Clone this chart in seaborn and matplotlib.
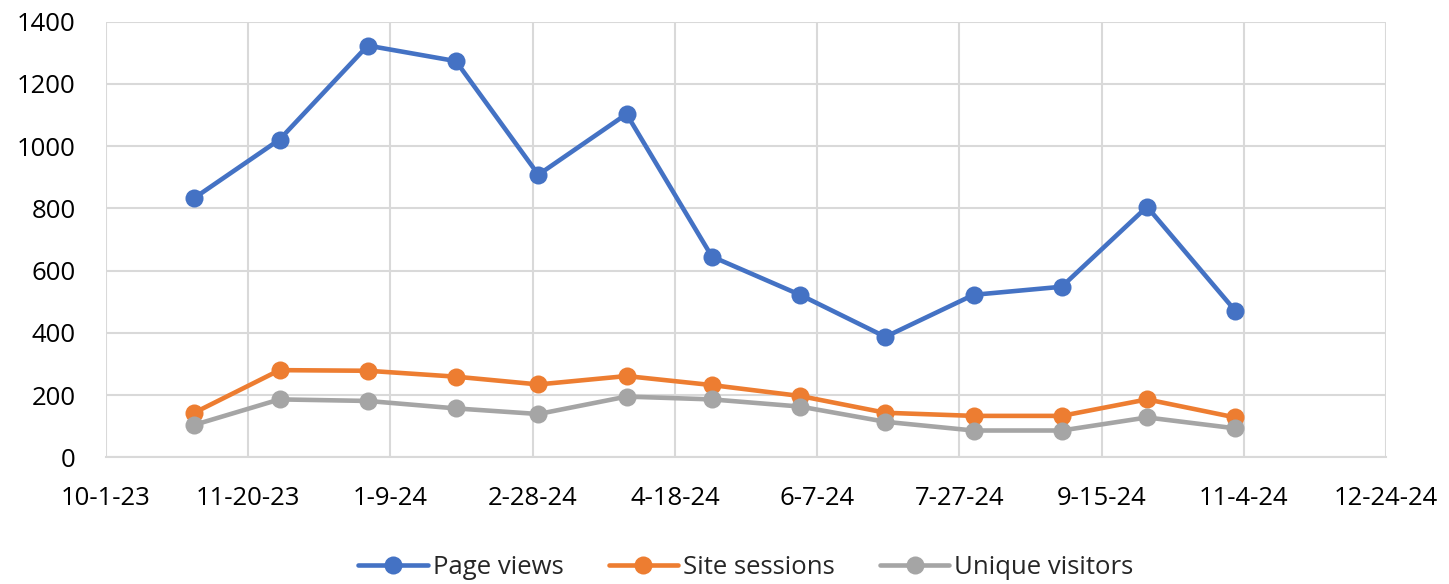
import pandas as pd
import matplotlib
matplotlib.use("Agg")
import matplotlib.pyplot as plt
import seaborn as sns

# Monthly data (first of each month)
months = pd.date_range("2023-11-01", "2024-11-01", freq="MS")
page_views = [833, 1021, 1323, 1273, 908, 1103, 645, 522, 387, 522, 548, 805, 471]
site_sessions = [143, 280, 278, 259, 234, 261, 232, 197, 143, 133, 133, 186, 128]
unique_visitors = [104, 186, 181, 157, 139, 195, 186, 163, 114, 86, 86, 128, 93]

tick_dates = pd.date_range("2023-10-01", periods=10, freq="50D")
tick_labels = ["10-1-23", "11-20-23", "1-9-24", "2-28-24", "4-18-24",
               "6-7-24", "7-27-24", "9-15-24", "11-4-24", "12-24-24"]

df = pd.DataFrame({"date": months,
                   "Page views": page_views,
                   "Site sessions": site_sessions,
                   "Unique visitors": unique_visitors})
long_df = df.melt(id_vars="date", var_name="series", value_name="value")

sns.set_style("white")
plt.rcParams["font.family"] = ["Open Sans", "DejaVu Sans"]

fig = plt.figure(figsize=(14.49, 5.84), dpi=100)
ax = fig.add_axes([0.0732, 0.217, 0.8833, 0.746])

palette = {"Page views": "#4472C4", "Site sessions": "#ED7D31",
           "Unique visitors": "#A5A5A5"}
sns.lineplot(data=long_df, x="date", y="value", hue="series", palette=palette,
             marker="o", markersize=13, markeredgewidth=0, linewidth=3.3,
             ax=ax, zorder=3)

ax.set_xlim(tick_dates[0], tick_dates[-1])
ax.set_ylim(0, 1400)
ax.set_xticks(tick_dates)
ax.set_xticklabels(tick_labels)
ax.set_yticks(range(0, 1401, 200))
ax.grid(True, color="#d9d9d9", linewidth=1.5)
ax.set_axisbelow(True)
for s in ["top", "right", "left"]:
    ax.spines[s].set_visible(False)
ax.spines["bottom"].set_color("#d9d9d9")
ax.spines["bottom"].set_linewidth(1.5)
ax.tick_params(axis="both", length=0, labelsize=18.5, colors="black")
ax.tick_params(axis="x", pad=21)
ax.tick_params(axis="y", pad=22)
ax.set_xlabel("")
ax.set_ylabel("")

leg = ax.legend(loc="center", bbox_to_anchor=(0.5, -0.254), ncol=3,
                frameon=False, fontsize=18.5, handlelength=2.7,
                handletextpad=0.2, columnspacing=1.75)

fig.savefig("out.png", dpi=100)
